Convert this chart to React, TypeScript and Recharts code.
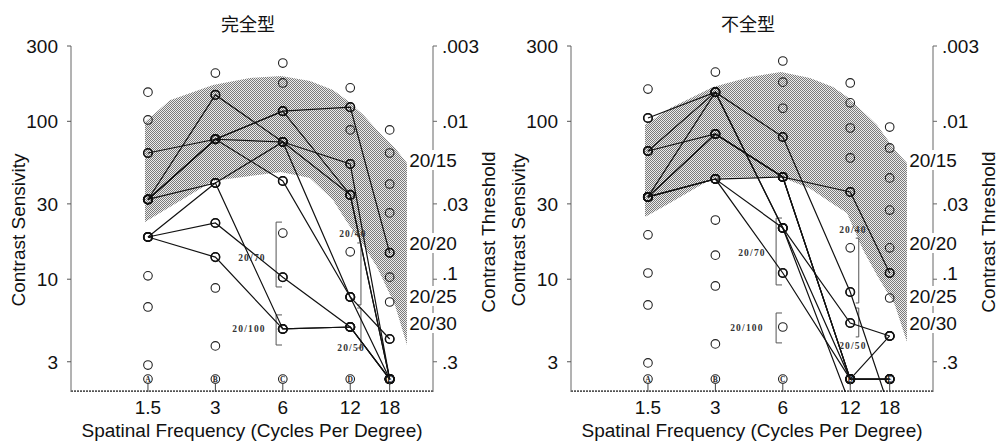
import React from 'react';
import { ComposedChart, XAxis, YAxis, Line, Area, Scatter, ReferenceDot } from 'recharts';

// ---- shared axis settings ----
const FREQS = [1.5, 3, 6, 12, 18];
const X_DOMAIN: [number, number] = [0.68, 28.1];
const Y_DOMAIN: [number, number] = [1.93, 300];
const SENS_TICKS = [3, 10, 30, 100, 300];
const THRESH_TEXT: Record<number, string> = { 3: '.3', 10: '.1', 30: '.03', 100: '.01', 300: '.003' };
const ROW_LETTERS = ['A', 'B', 'C', 'D', 'E'];
const LETTER_ROW = 2.33;

// Snellen acuity marks on the threshold axis
const snellenText = ['20/15', '20/20', '20/25', '20/30'];
const snellenLevel = [56.9, 16.96, 7.83, 5.28];

// ---- 完全型 panel ----
const patchesC15 = [2.86, 6.67, 10.5, 18.5, 32, 63, 102, 153];
const patchesC3 = [3.78, 8.8, 13.8, 22.7, 40.7, 77, 147, 202];
const patchesC6 = [4.84, 10.3, 19.6, 41.9, 74, 116, 175, 234];
const patchesC12 = [4.98, 7.72, 14.9, 34.2, 53.7, 88.2, 123, 163];
const patchesC18 = [4.18, 7.17, 10.3, 14.7, 26.3, 40.1, 63, 88.2];

const completeEyes: (number | null)[][] = [
  [63, 77, 74, 53.7, 2.33],
  [32, 147, 74, 34.2, 2.33],
  [32, 77, 116, 123, 14.7],
  [32, 77, 116, 34.2, 2.33],
  [32, 40.7, 74, 7.72, 2.33],
  [18.5, 40.7, 4.84, 4.98, 2.33],
  [18.5, 22.7, 10.3, 4.98, 2.33],
  [18.5, 13.8, 4.84, 4.98, 2.33],
  [32, 77, 41.9, 7.72, 4.18],
];

const bandFreq = [1.455, 1.88, 2.93, 4.28, 5.89, 7.93, 10.05, 11.6, 13.7, 15.8, 19.0, 21.5];
const bandLowC = [23.0, 28.7, 41.9, 45.1, 47.8, 43.8, 31.8, 23.0, 16.5, 11.95, 6.87, 3.83];
const bandHighC = [99, 136, 170, 188, 194, 180, 158, 136, 110, 88, 67.8, 54.5];

// acuity brackets: [spine freq, tip freq, top, bottom]
const bracketsC = [
  [5.6, 5.95, 23.0, 8.93],
  [5.6, 5.95, 5.94, 3.83],
  [13.4, 12.9, 16.96, 6.87],
  [13.4, 12.9, 6.57, 3.67],
];
const bracketTextC = ['20/70', '20/100', '20/40', '20/50'];
const bracketTextFreqC = [4.37, 4.24, 12.34, 12.1];
const bracketTextLevelC = [13.8, 4.84, 19.6, 3.67];

// ---- 不全型 panel ----
const patchesI15 = [2.95, 6.87, 10.95, 19.1, 33.2, 64.9, 105, 160];
const patchesI3 = [3.89, 9.06, 14.2, 23.7, 43.1, 83.2, 153, 205];
const patchesI6 = [4.98, 10.95, 21.1, 44.4, 79.6, 121, 177, 241];
const patchesI12 = [5.28, 8.3, 15.8, 35.7, 58.6, 90.7, 131, 175];
const patchesI18 = [4.37, 7.6, 10.95, 15.8, 27.4, 43.8, 67.8, 92];

const incompleteEyes: (number | null)[][] = [
  [105, 153, 79.6, 8.3, 1.5],
  [64.9, 153, 21.1, 2.33, 2.33],
  [64.9, 83.2, 44.4, 35.7, 10.95],
  [33.2, 83.2, 44.4, 2.33, 2.33],
  [33.2, 83.2, 44.4, 2.33, 4.37],
  [33.2, 153, 21.1, 1.6, null],
  [33.2, 43.1, 44.4, 2.33, 2.33],
  [33.2, 43.1, 21.1, 5.28, 4.37],
  [33.2, 43.1, 10.95, 2.33, null],
];

const bandLowI = [24.8, 30.4, 43.8, 44.4, 44.4, 37.5, 30.0, 26.3, 15.3, 10.6, 6.87, 4.0];
const bandHighI = [94.8, 121, 165, 191, 205, 188, 165, 143, 115, 94.8, 65.9, 54.5];

const bracketsI = [
  [5.6, 5.95, 24.4, 9.2],
  [5.6, 5.95, 6.11, 3.95],
  [13.1, 12.7, 18.2, 7.07],
  [13.1, 12.7, 6.57, 4.31],
];
const bracketTextI = ['20/70', '20/100', '20/40', '20/50'];
const bracketTextFreqI = [4.37, 4.15, 12.34, 12.34];
const bracketTextLevelI = [14.7, 4.98, 20.5, 3.83];

const SANS = '"Liberation Sans", Arial, Helvetica, sans-serif';
const SERIF = '"Liberation Serif", "DejaVu Serif", serif';

type Pt = { f: number; v: number | null; tag?: string };

function buildPatches(cols: number[][]): Pt[] {
  const pts: Pt[] = [];
  cols.forEach((col, i) => {
    pts.push({ f: FREQS[i], v: LETTER_ROW, tag: ROW_LETTERS[i] });
    col.forEach((v) => pts.push({ f: FREQS[i], v }));
  });
  return pts;
}

function buildBand(low: number[], high: number[]) {
  return bandFreq.map((f, i) => ({ f, range: [low[i], high[i]] }));
}

function bracketPath(b: number[]): Pt[] {
  const [spine, tip, top, bottom] = b;
  return [
    { f: tip, v: top },
    { f: spine, v: top },
    { f: spine, v: bottom },
    { f: tip, v: bottom },
  ];
}

// frequency-axis baseline along the lower edge of the plot
const baseline: Pt[] = [
  { f: X_DOMAIN[0], v: Y_DOMAIN[0] },
  { f: X_DOMAIN[1], v: Y_DOMAIN[0] },
];

const PatchShape = (props: any) => {
  const { cx, cy, payload } = props;
  if (cx == null || cy == null) return null;
  return (
    <g>
      <circle cx={cx} cy={cy} r={4.3} fill="none" stroke="#222" strokeWidth={1.1} />
      {payload && payload.tag ? (
        <text x={cx} y={cy + 2.6} textAnchor="middle" fontSize={7.5} fontFamily={SERIF} fontWeight="bold" fill="#222">
          {payload.tag}
        </text>
      ) : null}
    </g>
  );
};

const FreqTick = (props: any) => {
  const { x, y, payload } = props;
  return (
    <g>
      <line x1={x} x2={x} y1={y - 9} y2={y} stroke="#444" strokeWidth={1} />
      <text x={x} y={y + 22} textAnchor="middle" fontSize={19} fill="#111" fontFamily={SANS}>
        {payload.value}
      </text>
    </g>
  );
};

// threshold labels; the ".1" label sits a little above its tick
const ThresholdTick = (props: any) => {
  const { x, y, payload } = props;
  const v = payload.value as number;
  const lift = v === 10 ? -6 : 0;
  return (
    <text x={x} y={y + lift + 7} textAnchor="start" fontSize={19} fill="#111" fontFamily={SANS}>
      {THRESH_TEXT[v] ?? ''}
    </text>
  );
};

type PanelProps = {
  title: string;
  width: number;
  patches: number[][];
  eyes: (number | null)[][];
  bandLow: number[];
  bandHigh: number[];
  brackets: number[][];
  bracketText: string[];
  bracketFreq: number[];
  bracketLevel: number[];
  patternId: string;
};

function Panel(p: PanelProps) {
  const patchPts = buildPatches(p.patches);
  const band = buildBand(p.bandLow, p.bandHigh);
  return (
    <div style={{ position: 'relative', width: p.width, height: 441 }}>
      <div
        style={{
          position: 'absolute',
          left: 148,
          width: 200,
          top: 11,
          textAlign: 'center',
          fontSize: 18,
          lineHeight: '24px',
          fontFamily: '"Noto Sans CJK SC", "Noto Sans CJK JP", sans-serif',
          color: '#111',
        }}
      >
        {p.title}
      </div>
      <ComposedChart
        width={p.width}
        height={441}
        margin={{ top: 46, right: p.width - 433 - 60, bottom: 0, left: 11 }}
      >
        <defs>
          <pattern id={p.patternId} width="2" height="2" patternUnits="userSpaceOnUse">
            <rect width="2" height="2" fill="#ececec" />
            <rect x="0" y="0" width="1" height="1" fill="#7a7a7a" />
            <rect x="1" y="1" width="1" height="1" fill="#7a7a7a" />
          </pattern>
        </defs>
        <XAxis
          dataKey="f"
          type="number"
          scale="log"
          domain={X_DOMAIN}
          allowDataOverflow
          ticks={FREQS}
          height={49}
          tickSize={0}
          tickMargin={0}
          tickLine={false}
          tick={<FreqTick />}
          axisLine={false}
          label={(lp: any) => {
            const vb = lp && lp.viewBox ? lp.viewBox : { x: 71, y: 392, width: 362, height: 49 };
            return (
              <text x={vb.x + vb.width / 2} y={vb.y + 45} textAnchor="middle" fontSize={19} fill="#111" fontFamily={SANS}>
                Spatinal Frequency (Cycles Per Degree)
              </text>
            );
          }}
        />
        <YAxis
          yAxisId="cs"
          dataKey="v"
          orientation="left"
          type="number"
          scale="log"
          domain={Y_DOMAIN}
          allowDataOverflow
          ticks={SENS_TICKS}
          width={60}
          tickSize={4}
          tickMargin={9}
          tick={{ fontSize: 19, fill: '#111', fontFamily: SANS }}
          tickLine={{ stroke: '#555' }}
          axisLine={{ stroke: '#666', strokeWidth: 1 }}
          label={(lp: any) => {
            const vb = lp && lp.viewBox ? lp.viewBox : { x: 11, y: 46, width: 60, height: 346 };
            const cx = vb.x + 7;
            const cy = vb.y + vb.height / 2 + 11;
            return (
              <text
                x={cx}
                y={cy}
                transform={`rotate(-90 ${cx} ${cy})`}
                textAnchor="middle"
                dominantBaseline="central"
                fontSize={19}
                fill="#111"
                fontFamily={SANS}
              >
                Contrast Sensivity
              </text>
            );
          }}
        />
        <YAxis
          yAxisId="th"
          dataKey="v"
          orientation="right"
          type="number"
          scale="log"
          domain={Y_DOMAIN}
          allowDataOverflow
          ticks={SENS_TICKS}
          width={60}
          tickSize={4}
          tickMargin={5}
          tick={<ThresholdTick />}
          tickLine={{ stroke: '#666' }}
          axisLine={{ stroke: '#666', strokeWidth: 1 }}
          label={(lp: any) => {
            const vb = lp && lp.viewBox ? lp.viewBox : { x: 433, y: 46, width: 60, height: 346 };
            const cx = vb.x + 55;
            const cy = vb.y + vb.height / 2 + 13;
            return (
              <text
                x={cx}
                y={cy}
                transform={`rotate(-90 ${cx} ${cy})`}
                textAnchor="middle"
                dominantBaseline="central"
                fontSize={19}
                fill="#111"
                fontFamily={SANS}
              >
                Contrast Threshold
              </text>
            );
          }}
        />
        <Area
          data={band}
          dataKey="range"
          yAxisId="cs"
          type="linear"
          stroke="none"
          fill={`url(#${p.patternId})`}
          fillOpacity={1}
          dot={false}
          activeDot={false}
          isAnimationActive={false}
        />
        <Line
          data={baseline}
          dataKey="v"
          yAxisId="cs"
          type="linear"
          stroke="#555"
          strokeWidth={3.4}
          strokeDasharray="2 1"
          dot={false}
          activeDot={false}
          isAnimationActive={false}
        />
        {p.brackets.map((b, i) => (
          <Line
            key={`br-${i}`}
            data={bracketPath(b)}
            dataKey="v"
            yAxisId="cs"
            type="linear"
            stroke="#555"
            strokeWidth={1}
            dot={false}
            activeDot={false}
            isAnimationActive={false}
          />
        ))}
        <Scatter data={patchPts} dataKey="v" yAxisId="cs" shape={<PatchShape />} isAnimationActive={false} />
        {p.eyes.map((eye, i) => (
          <Line
            key={`eye-${i}`}
            data={eye.map((v, j) => ({ f: FREQS[j], v }))}
            dataKey="v"
            yAxisId="cs"
            type="linear"
            stroke="#111"
            strokeWidth={1.2}
            connectNulls={false}
            dot={{ r: 4.3, stroke: '#111', strokeWidth: 1.5, fill: 'none' }}
            activeDot={false}
            isAnimationActive={false}
          />
        ))}
        {p.bracketText.map((t, i) => (
          <ReferenceDot
            key={`bt-${i}`}
            x={p.bracketFreq[i]}
            y={p.bracketLevel[i]}
            yAxisId="cs"
            ifOverflow="visible"
            shape={(sp: any) => (
              <text
                x={sp.cx}
                y={sp.cy + 3.5}
                textAnchor="middle"
                fontSize={9.5}
                fontWeight="bold"
                letterSpacing={1.2}
                fontFamily={SERIF}
                fill="#333"
              >
                {t}
              </text>
            )}
          />
        ))}
        {snellenText.map((t, i) => (
          <ReferenceDot
            key={`sn-${i}`}
            x={X_DOMAIN[1]}
            y={snellenLevel[i]}
            yAxisId="cs"
            ifOverflow="visible"
            shape={(sp: any) => (
              <g>
                <rect x={sp.cx - 24} y={sp.cy - 10} width={48} height={20} fill="#fff" />
                <text x={sp.cx} y={sp.cy + 7} textAnchor="middle" fontSize={19} fill="#111" fontFamily={SANS}>
                  {t}
                </text>
              </g>
            )}
          />
        ))}
      </ComposedChart>
    </div>
  );
}

export default function App() {
  return (
    <div
      style={{
        position: 'absolute',
        left: 0,
        top: 0,
        width: 997,
        height: 441,
        overflow: 'hidden',
        background: '#fff',
        fontFamily: SANS,
      }}
    >
      <div style={{ position: 'absolute', left: 0, top: 0 }}>
        <Panel
          title="完全型"
          width={500}
          patches={[patchesC15, patchesC3, patchesC6, patchesC12, patchesC18]}
          eyes={completeEyes}
          bandLow={bandLowC}
          bandHigh={bandHighC}
          brackets={bracketsC}
          bracketText={bracketTextC}
          bracketFreq={bracketTextFreqC}
          bracketLevel={bracketTextLevelC}
          patternId="halftone-complete"
        />
      </div>
      <div style={{ position: 'absolute', left: 500, top: 0 }}>
        <Panel
          title="不全型"
          width={497}
          patches={[patchesI15, patchesI3, patchesI6, patchesI12, patchesI18]}
          eyes={incompleteEyes}
          bandLow={bandLowI}
          bandHigh={bandHighI}
          brackets={bracketsI}
          bracketText={bracketTextI}
          bracketFreq={bracketTextFreqI}
          bracketLevel={bracketTextLevelI}
          patternId="halftone-incomplete"
        />
      </div>
    </div>
  );
}
